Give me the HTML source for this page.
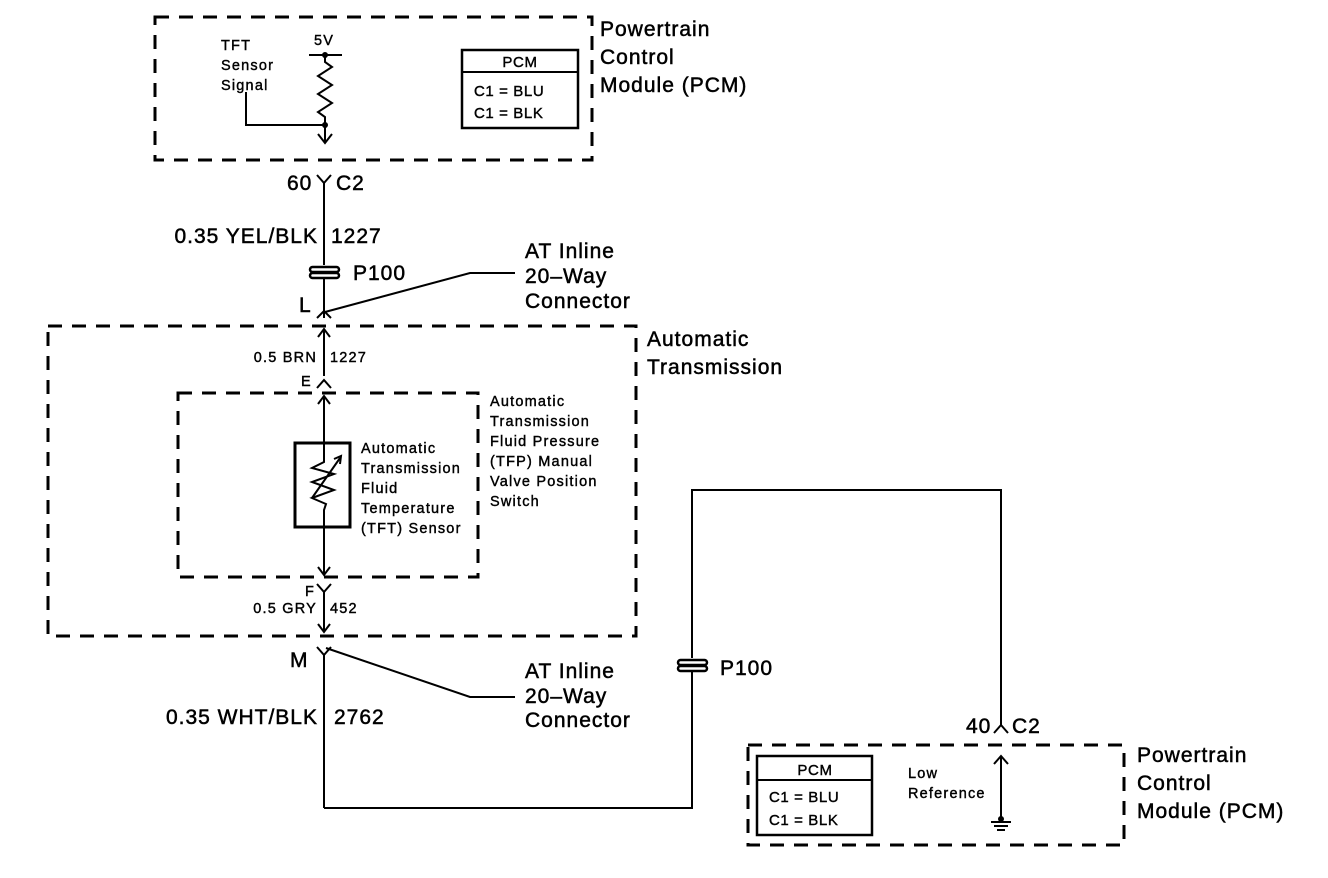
<!DOCTYPE html>
<html><head><meta charset="utf-8"><style>
html,body{margin:0;padding:0;background:#fff;}
svg{display:block;}
text{font-family:"Liberation Sans",Arial,sans-serif;fill:#000;stroke:#000;}
.b{font-size:21px;letter-spacing:1px;stroke-width:0.5;}
.s{font-size:14.5px;letter-spacing:1.2px;stroke-width:0.4;}
.m{font-size:15px;letter-spacing:0.6px;stroke-width:0.4;}
</style></head><body>
<svg width="1328" height="878" viewBox="0 0 1328 878" xmlns="http://www.w3.org/2000/svg">
<g fill="none" stroke="#000" stroke-width="3" stroke-dasharray="14,10">
<rect x="155" y="17" width="437" height="143"/>
<rect x="48" y="326" width="588" height="310"/>
<rect x="178" y="393" width="300" height="184"/>
<rect x="748" y="745" width="376" height="100"/>
</g>
<g fill="none" stroke="#000" stroke-width="2">
<line x1="309" y1="55" x2="342" y2="55"/>
<polyline points="325,55 325,62 332,67 318,76 332,85 318,94 332,103 318,112 325,117 325,143"/>
<polyline points="246,92 246,125 325,125"/>
<polyline points="318,134 325,143 332,134"/>
<rect x="462" y="50" width="116" height="78" stroke-width="2.5"/>
<line x1="462" y1="72" x2="578" y2="72"/>
<polyline points="317,175 324,183 331,175"/>
<line x1="324" y1="183" x2="324" y2="265"/>
<line x1="324" y1="279" x2="324" y2="318"/>
<polyline points="317,318 324,311 331,318"/>
<polyline points="325,312 470,273 515,273"/>
<line x1="324" y1="330" x2="324" y2="376"/>
<polyline points="318,337 324,329 330,337"/>
<polyline points="317,388 324,380 331,388"/>
<line x1="324" y1="396" x2="324" y2="443"/>
<polyline points="318,404 324,396 330,404"/>
<rect x="295" y="443" width="55" height="84" stroke-width="3"/>
<polyline points="324,443 324,462 312,468 334,474 312,482 334,490 312,498 326,504 324,510 324,575"/>
<line x1="312" y1="498" x2="340" y2="458"/>
<polyline points="334,459 341,456 340,464"/>
<polyline points="318,567 324,575 330,567"/>
<polyline points="317,584 324,592 331,584"/>
<line x1="324" y1="592" x2="324" y2="632"/>
<polyline points="318,624 324,632 330,624"/>
<polyline points="317,647 324,655 331,647"/>
<line x1="324" y1="655" x2="324" y2="808"/>
<polyline points="326,648 470,697 515,697"/>
<polyline points="324,808 692,808 692,672"/>
<polyline points="692,658 692,490 1001,490 1001,725"/>
<polyline points="994,733 1001,725 1008,733"/>
<rect x="757" y="756" width="115" height="79" stroke-width="2.5"/>
<line x1="757" y1="780" x2="872" y2="780"/>
<line x1="1001" y1="757" x2="1001" y2="820"/>
<polyline points="994,764 1001,756 1008,764"/>
<line x1="991" y1="822" x2="1011" y2="822"/>
<line x1="994" y1="826" x2="1008" y2="826"/>
<line x1="997" y1="830" x2="1005" y2="830"/>
</g>
<circle cx="325" cy="55" r="3"/><circle cx="325" cy="125" r="3"/><circle cx="1001" cy="819" r="3"/>
<g fill="none" stroke="#000" stroke-width="2.5">
<rect x="310" y="267" width="29" height="5" rx="2.5"/><rect x="310" y="273" width="29" height="5" rx="2.5"/>
<rect x="678" y="660" width="29" height="5" rx="2.5"/><rect x="678" y="666" width="29" height="5" rx="2.5"/>
</g>
<text class="b" x="600" y="36">Powertrain</text>
<text class="b" x="600" y="64">Control</text>
<text class="b" x="600" y="92">Module (PCM)</text>
<text class="s" x="221" y="50">TFT</text>
<text class="s" x="221" y="70">Sensor</text>
<text class="s" x="221" y="90">Signal</text>
<text class="s" x="314" y="45">5V</text>
<text class="m" x="520" y="67" text-anchor="middle">PCM</text>
<text class="m" x="474" y="96">C1 = BLU</text>
<text class="m" x="474" y="118">C1 = BLK</text>
<text class="b" x="287" y="190">60</text>
<text class="b" x="336" y="190">C2</text>
<text class="b" x="318" y="243" text-anchor="end">0.35 YEL/BLK</text>
<text class="b" x="331" y="243">1227</text>
<text class="b" x="353" y="280">P100</text>
<text class="b" x="299" y="312">L</text>
<text class="b" x="525" y="258">AT Inline</text>
<text class="b" x="525" y="283">20–Way</text>
<text class="b" x="525" y="308">Connector</text>
<text class="b" x="647" y="346">Automatic</text>
<text class="b" x="647" y="374">Transmission</text>
<text class="s" x="317" y="362" text-anchor="end">0.5 BRN</text>
<text class="s" x="330" y="362">1227</text>
<text class="s" x="301" y="386">E</text>
<text class="s" x="361" y="453">Automatic</text>
<text class="s" x="361" y="473">Transmission</text>
<text class="s" x="361" y="493">Fluid</text>
<text class="s" x="361" y="513">Temperature</text>
<text class="s" x="361" y="533">(TFT) Sensor</text>
<text class="s" x="490" y="406">Automatic</text>
<text class="s" x="490" y="426">Transmission</text>
<text class="s" x="490" y="446">Fluid Pressure</text>
<text class="s" x="490" y="466">(TFP) Manual</text>
<text class="s" x="490" y="486">Valve Position</text>
<text class="s" x="490" y="506">Switch</text>
<text class="s" x="305" y="596">F</text>
<text class="s" x="317" y="613" text-anchor="end">0.5 GRY</text>
<text class="s" x="330" y="613">452</text>
<text class="b" x="290" y="667">M</text>
<text class="b" x="525" y="678">AT Inline</text>
<text class="b" x="525" y="703">20–Way</text>
<text class="b" x="525" y="727">Connector</text>
<text class="b" x="318" y="724" text-anchor="end">0.35 WHT/BLK</text>
<text class="b" x="334" y="724">2762</text>
<text class="b" x="720" y="675">P100</text>
<text class="b" x="966" y="733">40</text>
<text class="b" x="1012" y="733">C2</text>
<text class="b" x="1137" y="762">Powertrain</text>
<text class="b" x="1137" y="790">Control</text>
<text class="b" x="1137" y="818">Module (PCM)</text>
<text class="m" x="815" y="775" text-anchor="middle">PCM</text>
<text class="m" x="769" y="802">C1 = BLU</text>
<text class="m" x="769" y="825">C1 = BLK</text>
<text class="s" x="908" y="778">Low</text>
<text class="s" x="908" y="798">Reference</text>
</svg>
</body></html>
